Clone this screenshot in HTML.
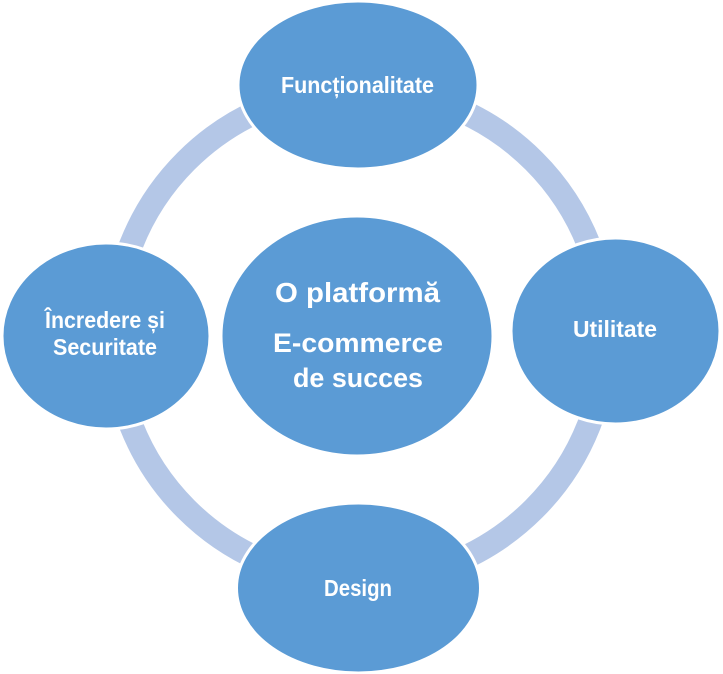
<!DOCTYPE html>
<html>
<head>
<meta charset="utf-8">
<style>
  html, body { margin: 0; padding: 0; background: #ffffff; }
  svg { display: block; }
  text { font-family: "Liberation Sans", "DejaVu Sans", sans-serif; font-weight: bold; fill: #ffffff; }
</style>
</head>
<body>
<svg width="723" height="674" viewBox="0 0 723 674" xmlns="http://www.w3.org/2000/svg">
  <rect width="723" height="674" fill="#ffffff"/>
  <!-- ring -->
  <circle cx="360" cy="335" r="246" fill="none" stroke="#B4C7E7" stroke-width="24"/>
  <!-- ellipses -->
  <g fill="#5B9BD5" stroke="#ffffff" stroke-width="3">
    <ellipse cx="358" cy="85" rx="120" ry="84"/>
    <ellipse cx="615.5" cy="331" rx="104.5" ry="93"/>
    <ellipse cx="358.5" cy="588" rx="122" ry="85"/>
    <ellipse cx="106" cy="336" rx="104" ry="93"/>
    <ellipse cx="357" cy="336" rx="136" ry="120"/>
  </g>
  <!-- labels -->
  <text x="281" y="93" font-size="23" textLength="153" lengthAdjust="spacingAndGlyphs">Funcționalitate</text>
  <text x="573" y="337" font-size="23" textLength="84" lengthAdjust="spacingAndGlyphs">Utilitate</text>
  <text x="324" y="596" font-size="23" textLength="68" lengthAdjust="spacingAndGlyphs">Design</text>
  <text x="45" y="328" font-size="23" textLength="120" lengthAdjust="spacingAndGlyphs">Încredere și</text>
  <text x="53" y="355" font-size="23" textLength="104" lengthAdjust="spacingAndGlyphs">Securitate</text>
  <text x="275" y="302" font-size="28" textLength="165" lengthAdjust="spacingAndGlyphs">O platformă</text>
  <text x="273" y="352" font-size="27" textLength="170" lengthAdjust="spacingAndGlyphs">E-commerce</text>
  <text x="293" y="387" font-size="27" textLength="130" lengthAdjust="spacingAndGlyphs">de succes</text>
</svg>
</body>
</html>
